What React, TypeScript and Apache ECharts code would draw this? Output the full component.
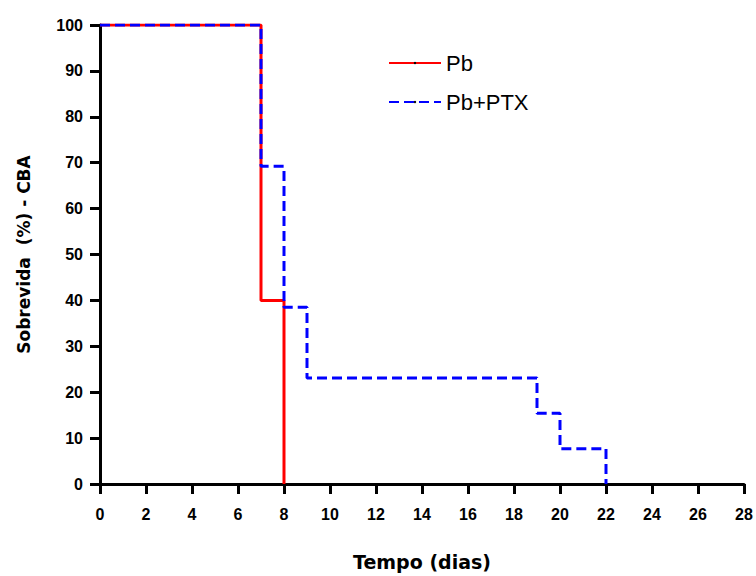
import React, { useEffect, useRef } from "react";
import * as echarts from "echarts";

const pbTimes = [0, 7, 7, 8, 8];
const pbSurvival = [100, 100, 40, 40, 0];
const ptxTimes = [0, 7, 7, 8, 8, 9, 9, 19, 19, 20, 20, 22, 22];
const ptxSurvival = [100, 100, 69.2, 69.2, 38.5, 38.5, 23.1, 23.1, 15.4, 15.4, 7.7, 7.7, 0];
const seriesNames = ["Pb", "Pb+PTX"];

export default function App() {
  const ref = useRef<HTMLDivElement>(null);
  useEffect(() => {
    const chart = echarts.init(ref.current!, undefined, { renderer: "svg" });
    const font = "'Liberation Sans', Arial, sans-serif";
    const wide = "'DejaVu Sans', sans-serif";
    chart.setOption({
      animation: false,
      backgroundColor: "#fff",
      grid: { left: 100, right: 12, top: 25, bottom: 92, containLabel: false },
      legend: {
        orient: "vertical",
        left: 383,
        top: 47,
        itemWidth: 52,
        itemHeight: 3,
        itemGap: 17,
        textStyle: { fontFamily: font, fontSize: 22, color: "#000", padding: [0, 0, 0, 0] },
        data: seriesNames,
      },
      xAxis: {
        type: "value",
        min: 0,
        max: 28,
        interval: 2,
        name: "Tempo (dias)",
        nameLocation: "middle",
        nameGap: 68,
        nameTextStyle: { fontFamily: wide, fontSize: 19, fontWeight: "bold", color: "#000" },
        axisLine: { onZero: false, lineStyle: { color: "#000", width: 3 } },
        axisTick: { show: true, length: 10, lineStyle: { color: "#000", width: 3 } },
        axisLabel: { fontFamily: font, fontSize: 16, fontWeight: "bold", color: "#000", margin: 22 },
        splitLine: { show: false },
      },
      yAxis: {
        type: "value",
        min: 0,
        max: 100,
        interval: 10,
        name: "Sobrevida  (%) - CBA",
        nameLocation: "middle",
        nameGap: 68,
        nameTextStyle: { fontFamily: wide, fontSize: 17, fontWeight: "bold", color: "#000" },
        axisLine: { show: true, lineStyle: { color: "#000", width: 3 } },
        axisTick: { show: true, length: 10, lineStyle: { color: "#000", width: 3 } },
        axisLabel: { fontFamily: font, fontSize: 16, fontWeight: "bold", color: "#000", margin: 17 },
        splitLine: { show: false },
      },
      series: [
        {
          name: seriesNames[0],
          type: "line",
          data: pbTimes.map((t, i) => [t, pbSurvival[i]]),
          symbol: "circle",
          symbolSize: 2,
          showSymbol: false,
          itemStyle: { color: "#000" },
          lineStyle: { color: "#ff0000", width: 3 },
          z: 2,
        },
        {
          name: seriesNames[1],
          type: "line",
          data: ptxTimes.map((t, i) => [t, ptxSurvival[i]]),
          symbol: "circle",
          symbolSize: 2,
          showSymbol: false,
          itemStyle: { color: "#000" },
          lineStyle: { color: "#0000ff", width: 3, type: [10, 5] },
          z: 3,
        },
      ],
    });
    return () => chart.dispose();
  }, []);
  return <div ref={ref} style={{ width: 756, height: 576, position: "absolute", left: 0, top: 0 }} />;
}
